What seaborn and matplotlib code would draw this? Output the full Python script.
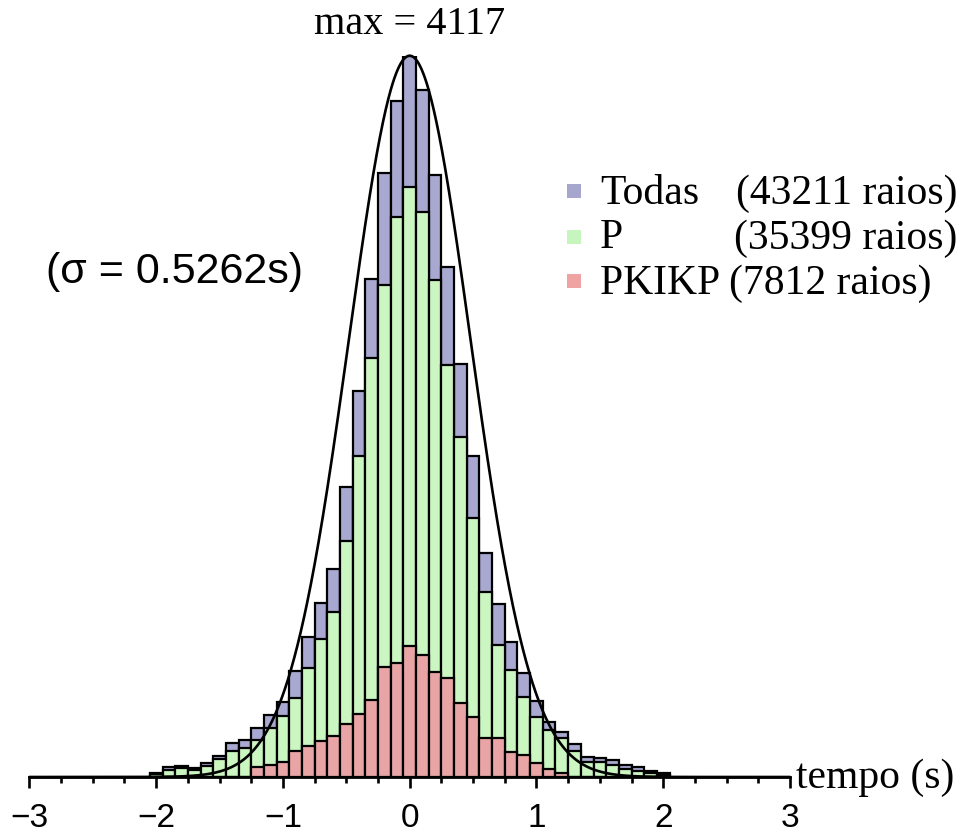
import numpy as np
import pandas as pd
import matplotlib
matplotlib.use("Agg")
import matplotlib.pyplot as plt
from matplotlib.patches import Rectangle
from matplotlib.ticker import MultipleLocator
import seaborn as sns

# ---------------- data ----------------
bin_centers = [round(-2.0 + 0.1 * i, 1) for i in range(41)]   # -2.0 ... 2.0 s
bin_width = 0.1

todas = [22, 55, 65, 50, 80, 120, 195, 211, 280, 354,
         430, 603, 801, 995, 1186, 1656, 2206, 2845, 3450, 3860,
         4117,
         3922, 3436, 2913, 2360, 1832, 1281, 985, 768, 592, 435,
         316, 256, 188, 116, 110, 97, 71, 57, 33, 21]
p_rays = [15, 42, 50, 40, 65, 100, 150, 165, 213, 278,
          346, 451, 621, 786, 944, 1345, 1835, 2392, 2810, 3198,
          3369,
          3226, 2839, 2352, 1938, 1479, 1055, 754, 611, 459, 344,
          266, 221, 150, 87, 87, 68, 44, 36, 25, 11]
pkikp = [0, 0, 0, 0, 0, 0, 0, 0, 59, 68,
         85, 146, 175, 204, 232, 305, 362, 442, 625, 648,
         748,
         697, 601, 564, 421, 344, 222, 221, 144, 128, 78,
         45, 22, 0, 0, 0, 0, 0, 0, 0, 0]

series_names = ["Todas", "P", "PKIKP"]
series_counts_text = ["(43211 raios)", "(35399 raios)", "(7812 raios)"]
max_count = 4117
sigma_text = "(\u03c3 = 0.5262s)"
curve_sigma = 0.48          # visual width of the drawn normal curve
xtick_values = [-3, -2, -1, 0, 1, 2, 3]

colors = {"Todas": "#a8a8d1", "P": "#cbf6c1", "PKIKP": "#e9a5a5"}
legend_colors = {"Todas": "#a6a6cf", "P": "#c6f5bd", "PKIKP": "#f0a3a3"}

df = pd.DataFrame({"tempo": bin_centers, "Todas": todas,
                   "P": p_rays, "PKIKP": pkikp})

# ---------------- figure ----------------
W, H = 960, 839
sns.set_style("white")
plt.rcParams["font.family"] = ["Liberation Sans", "DejaVu Sans"]
plt.rcParams["text.color"] = "black"
plt.rcParams["xtick.color"] = "black"
plt.rcParams["axes.edgecolor"] = "black"
fig = plt.figure(figsize=(W / 100, H / 100), dpi=100)

x0, x1 = 29.4, 790.0       # px of -3 and 3
ybase, ytop = 777.0, 55.7  # px of 0 and max
ax = fig.add_axes([x0 / W, (H - ybase) / H, (x1 - x0) / W, (ybase - ytop) / H])

lo = bin_centers[0] - bin_width / 2
hi = bin_centers[-1] + bin_width / 2
for name in series_names:
    sns.histplot(data=df, x="tempo", weights=name, binwidth=bin_width,
                 binrange=(lo, hi), stat="count",
                 color=colors[name], edgecolor="black", linewidth=1.6,
                 alpha=1, ax=ax)

xs = np.linspace(-3, 3, 1201)
ys = max_count * np.exp(-xs ** 2 / (2 * curve_sigma ** 2))
sns.lineplot(x=xs, y=ys, color="black", linewidth=1.9, ax=ax)
for l in ax.lines:
    l.set_clip_on(False)

ax.set_xlim(-3, 3)
ax.set_ylim(0, max_count)
ax.set_xlabel("")
ax.set_ylabel("")
ax.set_yticks([])
for s in ["left", "right", "top"]:
    ax.spines[s].set_visible(False)
ax.spines["bottom"].set_linewidth(2.0)
ax.spines["bottom"].set_bounds(-3, 3)
ax.spines["bottom"].set_zorder(5)
ax.set_xticks(xtick_values)
ax.set_xticklabels([f"{v}".replace("-", "\u2212") for v in xtick_values])
ax.xaxis.set_minor_locator(MultipleLocator(0.25))
ax.tick_params(axis="x", which="both", bottom=True, direction="out",
               color="black", width=1.9)
ax.tick_params(axis="x", which="major", length=8, labelsize=24, pad=11,
               labelcolor="black")
ax.tick_params(axis="x", which="minor", length=4)
ax.patch.set_alpha(0)

serif = ["Liberation Serif", "DejaVu Serif"]
fig.text(410 / W, 1 - 24 / H, f"max = {max_count}", ha="center", va="center",
         fontsize=29, family=serif)
fig.text(796 / W, 1 - 778 / H, "tempo (s)", ha="left", va="center",
         fontsize=30, family=serif)
fig.text(46 / W, 1 - 272 / H, sigma_text, ha="left", va="center",
         fontsize=31, family=["Liberation Sans", "DejaVu Sans"])

# legend (manual, to keep the column alignment)
sq_y = [190.5, 236.5, 280.5]
base_y = [203.5, 248.5, 293.5]
for i, name in enumerate(series_names):
    fig.add_artist(Rectangle((566.5 / W, 1 - (sq_y[i] + 7) / H), 14 / W, 14 / H,
                             transform=fig.transFigure,
                             facecolor=legend_colors[name], edgecolor="none"))
    if i < 2:
        fig.text(600 / W, 1 - base_y[i] / H, name, ha="left", va="baseline",
                 fontsize=30, family=serif)
        fig.text(957 / W, 1 - base_y[i] / H, series_counts_text[i], ha="right",
                 va="baseline", fontsize=30, family=serif)
    else:
        fig.text(600 / W, 1 - base_y[i] / H,
                 f"{name} {series_counts_text[i]}", ha="left",
                 va="baseline", fontsize=30, family=serif)

fig.savefig("out.png", dpi=100)
